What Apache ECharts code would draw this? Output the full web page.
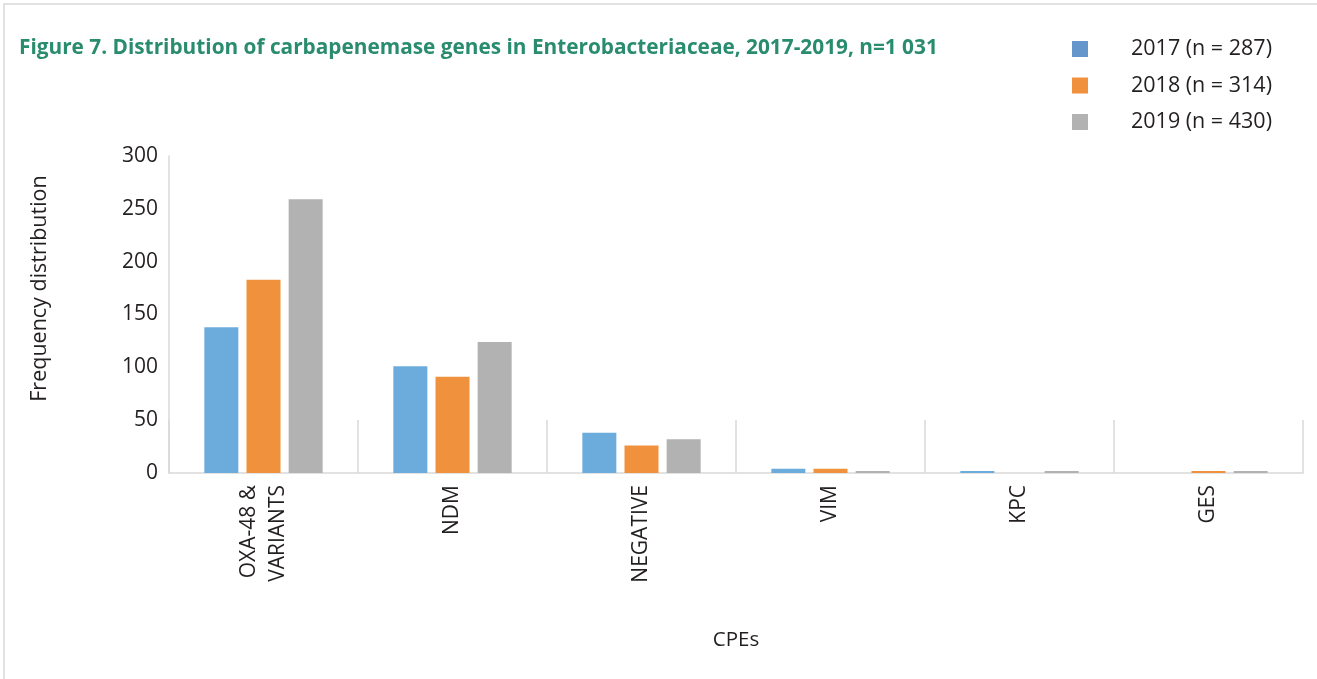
<!DOCTYPE html>
<html>
<head>
<meta charset="utf-8">
<script src="https://cdn.jsdelivr.net/npm/echarts@6/dist/echarts.min.js"></script>
<style>
html,body{margin:0;padding:0;background:#fff;}
#chart{width:1317px;height:679px;}
</style>
</head>
<body>
<div id="chart"></div>
<script>
const titleText = 'Figure 7. Distribution of carbapenemase genes in Enterobacteriaceae, 2017-2019, n=1 031';
const categories = ['OXA-48 &\nVARIANTS', 'NDM', 'NEGATIVE', 'VIM', 'KPC', 'GES'];
const seriesNames = ['2017 (n = 287)', '2018 (n = 314)', '2019 (n = 430)'];
const values2017 = [138, 101, 38, 4, 2, 0];
const values2018 = [183, 91, 26, 4, 0, 2];
const values2019 = [259, 124, 32, 2, 2, 2];
const yTicks = [0, 50, 100, 150, 200, 250, 300];

const barColors = ['#6cacdc', '#f0923d', '#b2b2b2'];
const legendColors = ['#6496cc', '#f0923d', '#b2b2b2'];
const font = '"Open Sans", "Noto Sans", sans-serif';
const textColor = '#231f20';

const chart = echarts.init(document.getElementById('chart'));
const allValues = [values2017, values2018, values2019];

chart.setOption({
  animation: false,
  backgroundColor: '#ffffff',
  graphic: [{
    type: 'polyline',
    shape: { points: [[4, 679], [4, 4], [1317, 4]] },
    style: { stroke: '#d9d9d9', lineWidth: 1.5, fill: null }
  }],
  title: {
    text: titleText,
    left: 14,
    top: 33,
    textStyle: { fontFamily: font, fontWeight: 'bold', fontSize: 20.8, color: '#2a8c6e' }
  },
  legend: {
    orient: 'vertical',
    left: 1067,
    top: 33,
    itemWidth: 16,
    itemHeight: 16,
    itemGap: 14.5,
    icon: 'rect',
    data: seriesNames.map((n, i) => ({ name: n, itemStyle: { color: legendColors[i] } })),
    textStyle: { fontFamily: font, fontSize: 21.5, color: textColor, lineHeight: 21, padding: [0, 0, 0, 38] }
  },
  grid: { left: 169, right: 14, top: 156, bottom: 206, containLabel: false },
  xAxis: {
    type: 'category',
    data: categories,
    name: 'CPEs',
    nameLocation: 'middle',
    nameGap: 157,
    nameTextStyle: { fontFamily: font, fontSize: 20.5, color: textColor },
    axisLine: { show: true, lineStyle: { color: '#d9d9d9', width: 1.5 } },
    axisTick: { show: true, inside: true, length: 53, interval: 0, lineStyle: { color: '#d9d9d9', width: 1.5 } },
    axisLabel: {
      rotate: 90, interval: 0, margin: 12,
      fontFamily: font, fontSize: 21, color: textColor, lineHeight: 29
    }
  },
  yAxis: {
    type: 'value',
    min: 0, max: 300, interval: 50,
    name: 'Frequency distribution',
    nameLocation: 'middle',
    nameRotate: 90,
    nameGap: 118,
    nameTextStyle: { fontFamily: font, fontSize: 21.5, color: textColor, padding: [0, 0, 0, 52] },
    axisLine: { show: true, lineStyle: { color: '#d9d9d9', width: 1.5 } },
    axisTick: { show: false },
    splitLine: { show: false },
    axisLabel: {
      margin: 11, fontFamily: font, fontSize: 21, color: textColor,
      formatter: v => (yTicks.includes(v) ? String(v) : '')
    }
  },
  series: seriesNames.map((n, i) => ({
    name: n,
    type: 'bar',
    data: allValues[i],
    barWidth: 34,
    barGap: '24%',
    itemStyle: { color: barColors[i] }
  }))
});
</script>
</body>
</html>
